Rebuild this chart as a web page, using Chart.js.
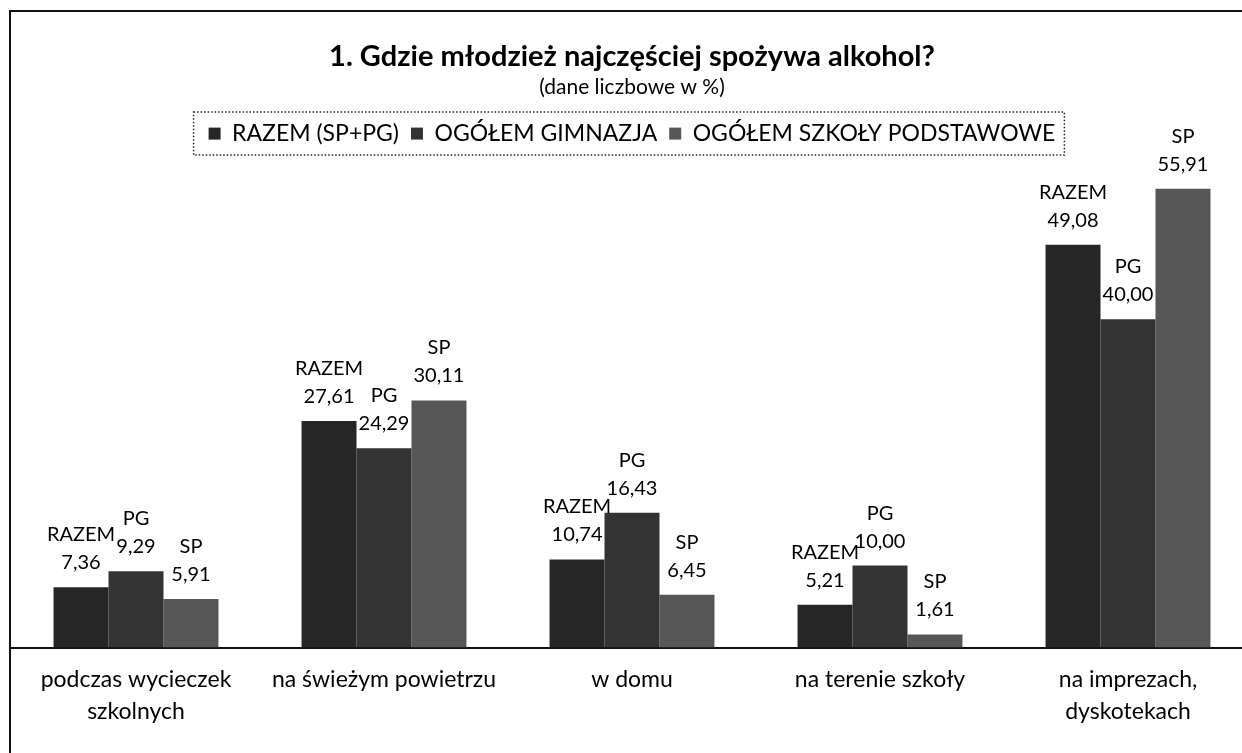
<!DOCTYPE html>
<html>
<head>
<meta charset="utf-8">
<script src="https://cdn.jsdelivr.net/npm/chart.js@4"></script>
<style>
  html, body { margin: 0; padding: 0; background: #fff; overflow: hidden; }
  #wrap { width: 1242px; height: 753px; overflow: hidden; position: relative; }
  #chart { position: absolute; left: 0; top: 0; }
</style>
</head>
<body>
<div id="wrap"><canvas id="chart" width="1262" height="753"></canvas></div>
<script>
// Data
const categories = [
  ["podczas wycieczek", "szkolnych"],
  "na świeżym powietrzu",
  "w domu",
  "na terenie szkoły",
  ["na imprezach,", "dyskotekach"]
];
const seriesNames = ["RAZEM (SP+PG)", "OGÓŁEM GIMNAZJA", "OGÓŁEM SZKOŁY PODSTAWOWE"];
const shortNames = ["RAZEM", "PG", "SP"];
const razem = [7.36, 27.61, 10.74, 5.21, 49.08];
const gimnazja = [9.29, 24.29, 16.43, 10.00, 40.00];
const podstawowe = [5.91, 30.11, 6.45, 1.61, 55.91];
const colors = ["#262626", "#333333", "#575757"];

const FONT = "Lato, 'Noto Sans', sans-serif";

// Draws the page frame (top and left edge of the scanned box)
const framePlugin = {
  id: "frame",
  beforeDraw(chart) {
    const ctx = chart.ctx;
    ctx.save();
    ctx.fillStyle = "#fff";
    ctx.fillRect(0, 0, chart.width, chart.height);
    ctx.strokeStyle = "#111";
    ctx.lineWidth = 2;
    ctx.beginPath();
    ctx.moveTo(10, chart.height + 5);
    ctx.lineTo(10, 11);
    ctx.lineTo(chart.width + 5, 11);
    ctx.stroke();
    ctx.restore();
  }
};

// Dotted box around the legend
const legendBoxPlugin = {
  id: "legendBox",
  afterDraw(chart) {
    const boxes = chart.legend && chart.legend.legendHitBoxes;
    if (!boxes || !boxes.length) return;
    const first = boxes[0];
    const last = boxes[boxes.length - 1];
    const x1 = first.left - 15;
    const x2 = last.left + last.width + 9;
    const y1 = first.top - 10;
    const y2 = first.top + first.height + 10;
    const ctx = chart.ctx;
    ctx.save();
    ctx.strokeStyle = "#222";
    ctx.lineWidth = 1.5;
    ctx.setLineDash([1.5, 2]);
    ctx.strokeRect(x1, y1, x2 - x1, y2 - y1);
    ctx.restore();
  }
};

// Two-line value labels above every bar
const valueLabels = {
  id: "valueLabels",
  afterDatasetsDraw(chart) {
    const ctx = chart.ctx;
    ctx.save();
    ctx.font = "20px " + FONT;
    ctx.fillStyle = "#000";
    ctx.textAlign = "center";
    ctx.textBaseline = "alphabetic";
    chart.data.datasets.forEach((ds, i) => {
      const meta = chart.getDatasetMeta(i);
      meta.data.forEach((bar, j) => {
        const v = ds.data[j].toFixed(2).replace(".", ",");
        ctx.fillText(v, bar.x, bar.y - 18);
        ctx.fillText(shortNames[i], bar.x, bar.y - 46);
      });
    });
    ctx.restore();
  }
};

new Chart(document.getElementById("chart"), {
  type: "bar",
  data: {
    labels: categories,
    datasets: [
      { label: seriesNames[0], data: razem, backgroundColor: colors[0] },
      { label: seriesNames[1], data: gimnazja, backgroundColor: colors[1] },
      { label: seriesNames[2], data: podstawowe, backgroundColor: colors[2] }
    ]
  },
  options: {
    responsive: false,
    animation: false,
    categoryPercentage: 0.665,
    barPercentage: 1.0,
    layout: { padding: { left: 12, right: 10, top: 41, bottom: 9 } },
    plugins: {
      title: {
        display: true,
        text: "1. Gdzie młodzież najczęściej spożywa alkohol?",
        color: "#000",
        font: { family: FONT, size: 29, weight: "bold", lineHeight: 1.1 },
        padding: { top: 0, bottom: 1 }
      },
      subtitle: {
        display: true,
        text: "(dane liczbowe w %)",
        color: "#000",
        font: { family: FONT, size: 21, lineHeight: 1.2 },
        padding: { top: 1, bottom: 10 }
      },
      legend: {
        display: true,
        labels: {
          color: "#000",
          font: { family: FONT, size: 23 },
          boxWidth: 12,
          boxHeight: 12,
          padding: 12
        }
      },
      tooltip: { enabled: false }
    },
    scales: {
      x: {
        grid: { display: false, drawTicks: false },
        border: { display: true, color: "#111", width: 2 },
        ticks: {
          color: "#000",
          padding: 16,
          maxRotation: 0,
          autoSkip: false,
          font: { family: FONT, size: 23, lineHeight: 1.4 }
        }
      },
      y: {
        display: false,
        min: 0,
        max: 60
      }
    }
  },
  plugins: [framePlugin, legendBoxPlugin, valueLabels]
});
</script>
</body>
</html>
